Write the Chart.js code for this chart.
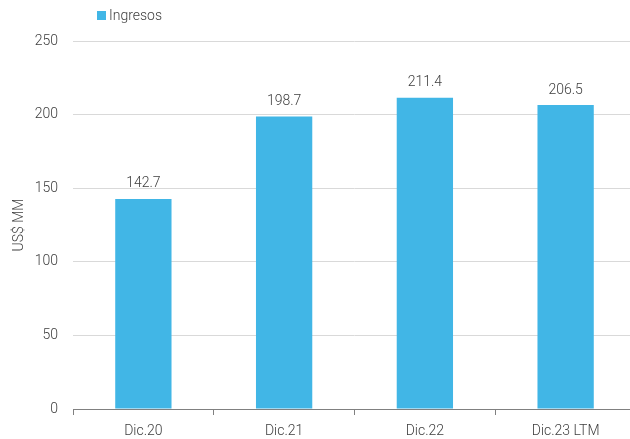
<!DOCTYPE html>
<html>
<head>
<meta charset="utf-8">
<script src="https://cdn.jsdelivr.net/npm/chart.js@4"></script>
<style>
  html, body { margin: 0; padding: 0; background: #fff; overflow: hidden; }
  #wrap { width: 636px; height: 439px; }
</style>
</head>
<body>
<div id="wrap"><canvas id="chart" width="636" height="439"></canvas></div>
<script>
// Datos del gráfico
const categorias = ['Dic.20', 'Dic.21', 'Dic.22', 'Dic.23 LTM'];
const ingresos = [142.7, 198.7, 211.4, 206.5];
const ticksY = [0, 50, 100, 150, 200, 250];

const FUENTE = "Roboto, 'Open Sans', sans-serif";
const AZUL = '#41b6e6';
const GRIS_TEXTO = '#404040';

// Etiquetas de valor sobre las barras + leyenda manual
const etiquetas = {
  id: 'etiquetas',
  afterDatasetsDraw(chart) {
    const ctx = chart.ctx;
    const meta = chart.getDatasetMeta(0);
    ctx.save();
    ctx.font = '300 14px ' + FUENTE;
    ctx.fillStyle = GRIS_TEXTO;
    ctx.textAlign = 'center';
    ctx.textBaseline = 'bottom';
    meta.data.forEach((bar, i) => {
      ctx.fillText(ingresos[i].toFixed(1), bar.x, bar.y - 8);
    });
    // leyenda
    const ds = chart.data.datasets[0];
    ctx.fillStyle = ds.backgroundColor;
    ctx.fillRect(97, 11, 9, 9);
    ctx.fillStyle = GRIS_TEXTO;
    ctx.textAlign = 'left';
    ctx.textBaseline = 'middle';
    ctx.fillText(ds.label, 109, 16);
    ctx.restore();
  }
};

new Chart(document.getElementById('chart'), {
  type: 'bar',
  data: {
    labels: categorias,
    datasets: [{
      label: 'Ingresos',
      data: ingresos,
      backgroundColor: AZUL,
      categoryPercentage: 0.4,
      barPercentage: 1.0
    }]
  },
  options: {
    responsive: false,
    animation: false,
    layout: { padding: { top: 41, right: 0, left: 11, bottom: 0 } },
    plugins: {
      legend: { display: false },
      tooltip: { enabled: false },
      title: { display: false }
    },
    scales: {
      x: {
        offset: true,
        grid: { display: true, drawOnChartArea: false, offset: true, tickLength: 6, color: '#808080' },
        border: { color: '#808080' },
        ticks: { color: GRIS_TEXTO, font: { family: FUENTE, size: 14, weight: '300' }, padding: 8 },
        afterFit(scale) { scale.height = 30; }
      },
      y: {
        min: 0,
        max: 250,
        afterBuildTicks(scale) { scale.ticks = ticksY.map(v => ({ value: v })); },
        grid: { color: '#d9d9d9', drawTicks: false },
        border: { display: false },
        ticks: { color: GRIS_TEXTO, font: { family: FUENTE, size: 14, weight: '300' }, padding: 15 },
        title: { display: true, text: 'US$ MM', color: GRIS_TEXTO, font: { family: FUENTE, size: 14, weight: '300' }, padding: 0 },
        afterFit(scale) { scale.width = 62; }
      }
    }
  },
  plugins: [etiquetas]
});
</script>
</body>
</html>
